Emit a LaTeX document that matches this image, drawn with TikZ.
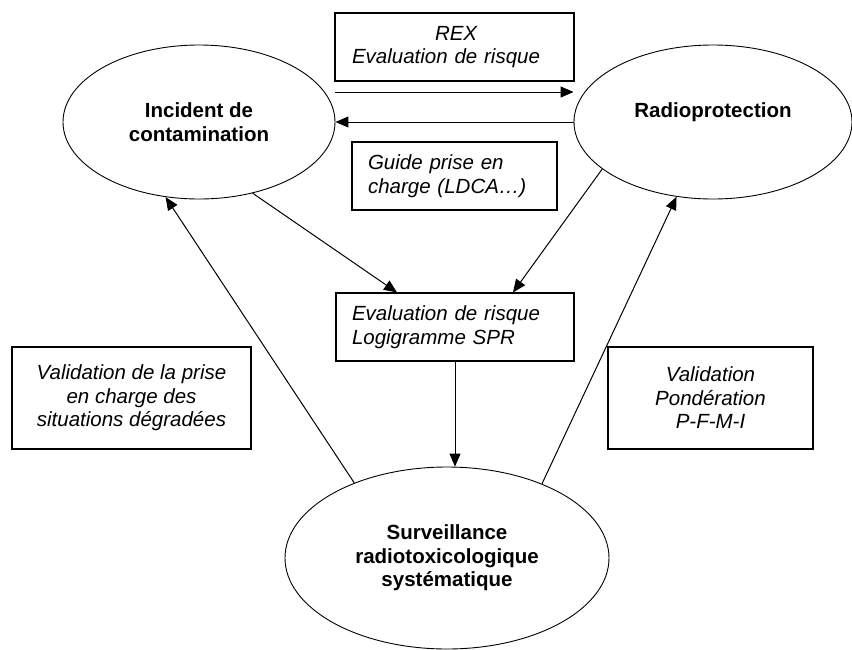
\documentclass[tikz,border=0pt]{standalone}
\usepackage{fontspec}
\setmainfont{Liberation Sans}
\usetikzlibrary{shapes.geometric,arrows.meta}
\begin{document}
\begin{tikzpicture}[x=1pt,y=-1pt,
  ell/.style={draw,ellipse,line width=0.9pt,inner sep=0pt,align=center,
    font=\fontsize{20.5}{23.5}\selectfont\bfseries},
  box/.style={draw,rectangle,line width=1.1pt,inner ysep=0pt,
    font=\fontsize{20.5}{23.5}\selectfont\itshape},
  arr/.style={line width=1pt,-{Triangle[length=13pt,width=11pt]}},
  ln/.style={line width=1pt}]
\useasboundingbox (0,0) rectangle (852,649);
% ellipses
\node[ell,minimum width=272pt,minimum height=154pt] (inc) at (199,122) {Incident de\\contamination};
\node[ell,minimum width=278pt,minimum height=154pt] (rad) at (713,122) {Radioprotection\\[0pt]\mbox{}};
\node[ell,minimum width=324pt,minimum height=182pt] (surv) at (447,558) {Surveillance\\radiotoxicologique\\systématique};
% boxes
\node[box,minimum width=239pt,minimum height=68pt,inner xsep=17pt,text width=205pt,align=left] (rex) at (454.5,47) {\hspace*{83pt}REX\\Evaluation de risque};
\node[box,minimum width=205pt,minimum height=68pt,inner xsep=16pt,text width=173pt,align=left] (guide) at (454.5,176) {Guide prise en\\charge (LDCA\ldots)};
\node[box,minimum width=238pt,minimum height=68pt,inner xsep=16pt,text width=206pt,align=left] (ev) at (455,327) {Evaluation de risque\\Logigramme SPR};
\node[box,minimum width=239pt,minimum height=102pt,align=center] (vl) at (131.5,398) {Validation de la prise\\en charge des\\situations dégradées};
\node[box,minimum width=205pt,minimum height=102pt,align=center] (vr) at (710.5,398) {Validation\\Pondération\\P-F-M-I};
% connectors
\draw[arr] ([yshift=30pt]inc.east) -- ([yshift=30pt]rad.west);
\draw[arr] (rad.west) -- (inc.east);
\draw[arr] (inc.-53.6) -- ([xshift=-58pt]ev.north);
\draw[arr] (rad.203.7) -- ([xshift=58pt]ev.north);
\draw[arr] (ev.south) -- (ev.south |- surv.north);
\draw[arr] (surv.141.7) -- (inc.246.9);
\draw[arr] (surv.38.9) -- (rad.244.1);
\end{tikzpicture}
\end{document}
